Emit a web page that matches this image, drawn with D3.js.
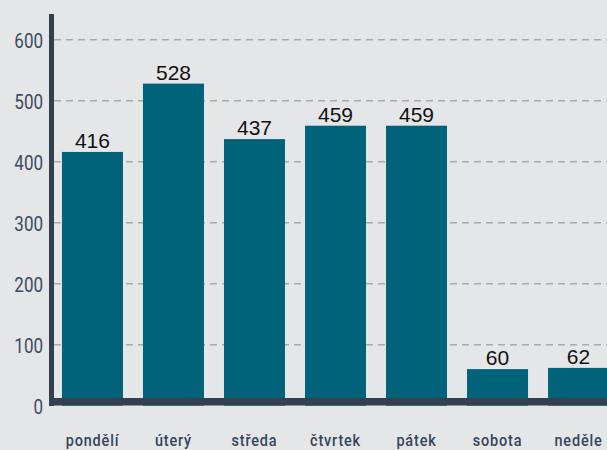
<!DOCTYPE html>
<html><head><meta charset="utf-8">
<script src="https://cdn.jsdelivr.net/npm/d3@7"></script>
<style>
html,body{margin:0;padding:0;background:#e5e6e8;overflow:hidden}
</style></head>
<body><svg id="c" width="607" height="450"></svg>
<script>
const categories = ["pondělí","úterý","středa","čtvrtek","pátek","sobota","neděle"];
const values = [416,528,437,459,459,60,62];
const yTicks = [0,100,200,300,400,500,600];

const svg = d3.select("#c");
svg.append("rect").attr("width",607).attr("height",450).attr("fill","#e5e6e8");

const x = d3.scaleBand().domain(categories).range([52, 619]).paddingInner(0.247).paddingOuter(0.123);
const y = d3.scaleLinear().domain([0,600]).range([405.7,39.7]);

// grid
svg.append("g").selectAll("line").data(yTicks.filter(d=>d>0)).join("line")
  .attr("x1",54).attr("x2",607)
  .attr("y1",d=>y(d)).attr("y2",d=>y(d))
  .attr("stroke","#a9aaac").attr("stroke-width",1.5).attr("stroke-dasharray","7,5");

// bars
svg.append("g").selectAll("rect").data(values).join("rect")
  .attr("x",(d,i)=>x(categories[i])).attr("width",x.bandwidth())
  .attr("y",d=>y(d)).attr("height",d=>y(0)-y(d))
  .attr("fill","#00637a");

// value labels
svg.append("g").selectAll("text").data(values).join("text")
  .attr("x",(d,i)=>x(categories[i])+x.bandwidth()/2)
  .attr("y",d=>y(d)-4)
  .attr("text-anchor","middle")
  .attr("font-family","Liberation Sans, Arial, sans-serif")
  .attr("font-size",21).attr("fill","#111")
  .text(d=>d);

// y axis
const yAxis = d3.axisLeft(y).tickValues(yTicks).tickSize(0).tickPadding(0);
const gy = svg.append("g").attr("transform","translate(43,0)").call(yAxis);
gy.select(".domain").remove();
gy.selectAll("text").attr("font-family","Roboto, sans-serif").attr("font-size",20.5)
  .attr("font-weight",400).attr("fill","#3a4b5e").attr("dy","0.36em")
  .attr("transform","scale(0.83,1)");

// axis lines
svg.append("line").attr("x1",51.5).attr("x2",51.5).attr("y1",14).attr("y2",406)
  .attr("stroke","#343f4f").attr("stroke-width",5);
svg.append("line").attr("x1",49).attr("x2",607).attr("y1",401.7).attr("y2",401.7)
  .attr("stroke","#343f4f").attr("stroke-width",7.5);

// x axis labels
const xAxis = d3.axisBottom(x).tickSize(0).tickPadding(0);
const gx = svg.append("g").attr("transform","translate(0,446)").call(xAxis);
gx.select(".domain").remove();
gx.selectAll("text").attr("font-family","Roboto, sans-serif").attr("font-size",17)
  .attr("font-weight",500).attr("letter-spacing","1px").attr("fill","#34455a").attr("dy","0")
  .attr("transform","scale(0.85,1)");
</script></body></html>
